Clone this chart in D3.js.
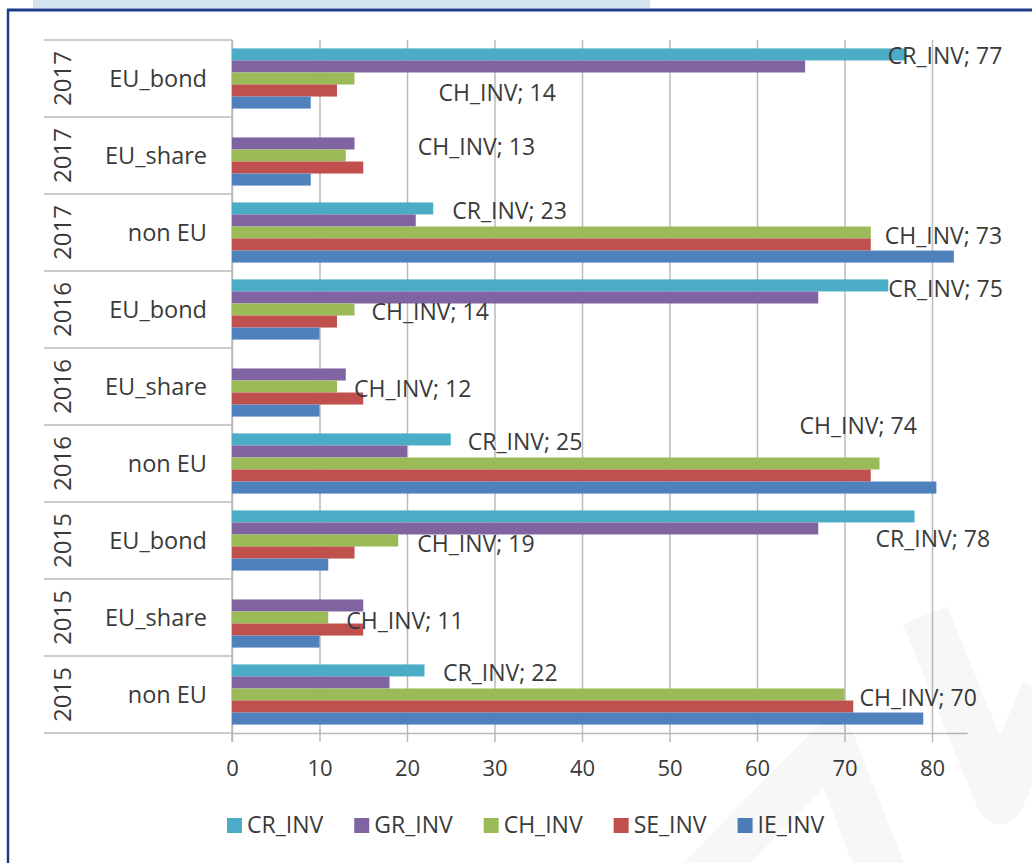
<!DOCTYPE html>
<html>
<head>
<meta charset="utf-8">
<script src="https://cdn.jsdelivr.net/npm/d3@7"></script>
<style>
  body { margin: 0; background: #fff; }
  svg text { font-family: "Open Sans", "Noto Sans", sans-serif; fill: #3a3a3a; }
</style>
</head>
<body>
<svg class="canvas" width="1032" height="863"></svg>
<script>
// rows, top to bottom
var years = ["2017", "2017", "2017", "2016", "2016", "2016", "2015", "2015", "2015"];
var groups = ["EU_bond", "EU_share", "non EU", "EU_bond", "EU_share", "non EU", "EU_bond", "EU_share", "non EU"];
var series = ["CR_INV", "GR_INV", "CH_INV", "SE_INV", "IE_INV"];
var CR_INV = [77, 0, 23, 75, 0, 25, 78, 0, 22];
var GR_INV = [65.5, 14, 21, 67, 13, 20, 67, 15, 18];
var CH_INV = [14, 13, 73, 14, 12, 74, 19, 11, 70];
var SE_INV = [12, 15, 73, 12, 15, 73, 14, 15, 71];
var IE_INV = [9, 9, 82.5, 10, 10, 80.5, 11, 10, 79];
var xTicks = [0, 10, 20, 30, 40, 50, 60, 70, 80];

var colors = {CR_INV: "#4bacc6", GR_INV: "#8064a2", CH_INV: "#9bbb59", SE_INV: "#c0504d", IE_INV: "#4f81bd"};
var values = {CR_INV: CR_INV, GR_INV: GR_INV, CH_INV: CH_INV, SE_INV: SE_INV, IE_INV: IE_INV};

// data labels that were placed by hand in the original: series, row, nudge from bar end / bar centre
var labelNudges = [
  ["CR_INV", 0, -18, 2], ["CH_INV", 0, 84, 14.5],
  ["CH_INV", 1, 72, -8.5],
  ["CR_INV", 2, 19, 3], ["CH_INV", 2, 14, 3],
  ["CR_INV", 3, 0, 4], ["CH_INV", 3, 17, 2],
  ["CH_INV", 4, 17, 2.5],
  ["CR_INV", 5, 17, 3], ["CH_INV", 5, -80, -38],
  ["CH_INV", 6, 19, 3.5], ["CR_INV", 6, -39, 23],
  ["CH_INV", 7, 18, 3],
  ["CR_INV", 8, 18.5, 3], ["CH_INV", 8, 15, 3]
];

var svg = d3.select(".canvas");
var plotTop = 40, plotBottom = 733, tableLeft = 44;

var rows = d3.range(years.length);
var x = d3.scaleLinear().domain([0, 84]).range([232, 967]);
var y = d3.scaleBand().domain(rows).range([plotTop, plotBottom]);
var inner = d3.scaleBand().domain(series).range([0, y.bandwidth()]).paddingOuter(0.7);

// page frame
svg.append("rect").attr("x", 33).attr("y", 0).attr("width", 617).attr("height", 8).attr("fill", "#d4e4ef");
svg.append("line").attr("x1", 7).attr("x2", 1032).attr("y1", 10).attr("y2", 10)
  .attr("stroke", "#1c3c87").attr("stroke-width", 3);
svg.append("line").attr("x1", 8).attr("x2", 8).attr("y1", 9).attr("y2", 863)
  .attr("stroke", "#1c3c87").attr("stroke-width", 2.5);

// gridlines (also the small ticks under the axis)
var grid = svg.append("g")
  .attr("transform", "translate(0," + (plotBottom + 9) + ")")
  .call(d3.axisTop(x).tickValues(xTicks).tickSize(plotBottom + 9 - plotTop).tickFormat(""));
grid.select(".domain").remove();
grid.selectAll("line").attr("stroke", "#bababa").attr("stroke-width", 1.5);

// category table lines
svg.append("g").selectAll("line")
  .data(rows.concat([rows.length]))
  .enter()
  .append("line")
  .attr("x1", tableLeft)
  .attr("x2", x(0))
  .attr("y1", function(d) { return plotTop + d * y.step(); })
  .attr("y2", function(d) { return plotTop + d * y.step(); })
  .attr("stroke", "#bababa")
  .attr("stroke-width", 1.5);

svg.append("line").attr("x1", x(0)).attr("x2", x(0)).attr("y1", plotTop).attr("y2", plotBottom + 9)
  .attr("stroke", "#bababa").attr("stroke-width", 1.5);

// bars
series.forEach(function(s) {
  svg.append("g").selectAll("rect")
    .data(values[s])
    .enter()
    .append("rect")
    .attr("x", x(0))
    .attr("y", function(d, i) { return y(i) + inner(s); })
    .attr("width", function(d) { return x(d) - x(0); })
    .attr("height", inner.bandwidth())
    .attr("fill", colors[s]);
});

// x axis
var xAxis = svg.append("g")
  .attr("transform", "translate(0," + plotBottom + ")")
  .call(d3.axisBottom(x).tickValues(xTicks).tickSize(0).tickSizeOuter(0).tickPadding(27));
xAxis.select(".domain").attr("stroke", "#bababa").attr("stroke-width", 1.5);
xAxis.selectAll("text").style("font-size", "22px").style("font-family", "'Open Sans', sans-serif").attr("fill", "#3a3a3a");

// row labels
svg.append("g").selectAll("text")
  .data(groups)
  .enter()
  .append("text")
  .attr("x", 207)
  .attr("y", function(d, i) { return y(i) + y.bandwidth() / 2 + 8; })
  .attr("text-anchor", "end")
  .style("font-size", "23.5px")
  .text(function(d) { return d; });

svg.append("g").selectAll("text")
  .data(years)
  .enter()
  .append("text")
  .attr("transform", function(d, i) { return "translate(71," + (y(i) + y.bandwidth() / 2) + ") rotate(-90)"; })
  .attr("text-anchor", "middle")
  .style("font-size", "24px")
  .text(function(d) { return d; });

// data labels
svg.append("g").selectAll("text")
  .data(labelNudges)
  .enter()
  .append("text")
  .attr("x", function(d) { return x(values[d[0]][d[1]]) + d[2]; })
  .attr("y", function(d) { return y(d[1]) + inner(d[0]) + inner.bandwidth() / 2 + d[3] + 8; })
  .style("font-size", "23px")
  .text(function(d) { return d[0] + "; " + values[d[0]][d[1]]; });

// legend
var lx = 227;
series.forEach(function(s) {
  svg.append("rect").attr("x", lx).attr("y", 818).attr("width", 15).attr("height", 15).attr("fill", colors[s]);
  var t = svg.append("text").attr("x", lx + 20).attr("y", 833).style("font-size", "23px").text(s);
  lx += 20 + t.node().getComputedTextLength() + 31;
});

// faint watermark strokes
var wm = d3.line();
[[[700, 880], [832, 745], [885, 880]], [[925, 615], [1000, 800], [1045, 690]]].forEach(function(p) {
  svg.append("path").attr("d", wm(p)).attr("fill", "none")
    .attr("stroke", "#000").attr("stroke-opacity", 0.03)
    .attr("stroke-width", 48).attr("stroke-linejoin", "round");
});
</script>
</body>
</html>
